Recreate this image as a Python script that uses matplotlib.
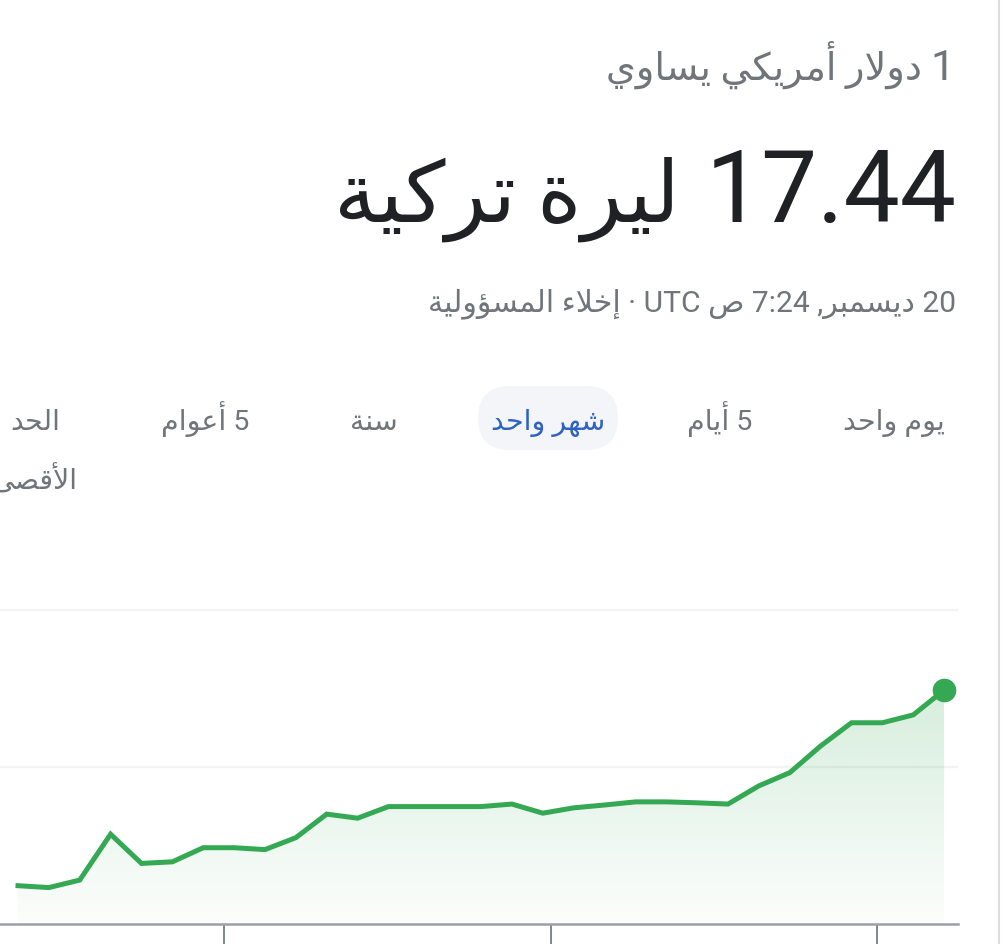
import matplotlib
matplotlib.use('Agg')
import matplotlib.pyplot as plt
from matplotlib.patches import FancyBboxPatch
from matplotlib.lines import Line2D
import numpy as np

# USD -> TRY, one month of daily closes
days = list(range(31))
rates = [16.822, 16.816, 16.840, 16.986, 16.893, 16.898, 16.943, 16.943,
         16.937, 16.975, 17.050, 17.037, 17.074, 17.074, 17.074, 17.074,
         17.082, 17.053, 17.070, 17.079, 17.089, 17.089, 17.086, 17.082,
         17.140, 17.182, 17.267, 17.341, 17.341, 17.366, 17.445]
grid_levels = [17.2, 17.7]
tick_days = [6.68, 17.26, 27.84]

title_num = "1"
title_small = "دولار أمريكي يساوي"
big_num = "17.44"
big_unit = "ليرة تركية"
date_line = "20 ديسمبر, 7:24 ص UTC · إخلاء المسؤولية"
tabs = ["يوم واحد", "5 أيام", "شهر واحد", "سنة", "5 أعوام", "الحد"]
tab_wrap = "الأقصى"

# --- tiny arabic shaper (matplotlib has no bidi / joining support) ---
DUAL = {'ئ': 0xFE89, 'ب': 0xFE8F, 'ت': 0xFE95, 'ث': 0xFE99, 'ج': 0xFE9D,
        'ح': 0xFEA1, 'خ': 0xFEA5, 'س': 0xFEB1, 'ش': 0xFEB5, 'ص': 0xFEB9,
        'ض': 0xFEBD, 'ط': 0xFEC1, 'ظ': 0xFEC5, 'ع': 0xFEC9, 'غ': 0xFECD,
        'ف': 0xFED1, 'ق': 0xFED5, 'ك': 0xFED9, 'ل': 0xFEDD, 'م': 0xFEE1,
        'ن': 0xFEE5, 'ه': 0xFEE9, 'ي': 0xFEF1}
RIGHT = {'آ': 0xFE81, 'أ': 0xFE83, 'ؤ': 0xFE85, 'إ': 0xFE87, 'ا': 0xFE8D,
         'ة': 0xFE93, 'د': 0xFEA9, 'ذ': 0xFEAB, 'ر': 0xFEAD, 'ز': 0xFEAF,
         'و': 0xFEED, 'ى': 0xFEEF}
ALONE = {'ء': 0xFE80}
LAM_ALEF = {'آ': 0xFEF5, 'أ': 0xFEF7, 'إ': 0xFEF9, 'ا': 0xFEFB}


def shape_word(word):
    units = []
    i = 0
    while i < len(word):
        c = word[i]
        if c == 'ل' and i + 1 < len(word) and word[i + 1] in LAM_ALEF:
            units.append(('LA', LAM_ALEF[word[i + 1]]))
            i += 2
        else:
            units.append((c, None))
            i += 1
    out = []
    for k, (c, lig) in enumerate(units):
        joins_prev = k > 0 and units[k - 1][0] in DUAL
        if lig is not None:
            out.append(chr(lig + (1 if joins_prev else 0)))
        elif c in DUAL:
            nxt = units[k + 1][0] if k + 1 < len(units) else None
            joins_next = nxt is not None and (nxt in DUAL or nxt in RIGHT or nxt == 'LA')
            base = DUAL[c]
            if joins_prev and joins_next:
                out.append(chr(base + 3))
            elif joins_prev:
                out.append(chr(base + 1))
            elif joins_next:
                out.append(chr(base + 2))
            else:
                out.append(chr(base))
        elif c in RIGHT:
            out.append(chr(RIGHT[c] + (1 if joins_prev else 0)))
        elif c in ALONE:
            out.append(chr(ALONE[c]))
        else:
            out.append(c)
    return ''.join(reversed(out))


def rtl(text):
    words = []
    for w in text.split(' '):
        if any('\u0600' <= ch <= '\u06ff' for ch in w):
            words.append(shape_word(w))
        else:
            words.append(w)
    return ' '.join(reversed(words))


FONT = ['Roboto', 'DejaVu Sans']
GRAY = '#70757a'
GREEN = '#34a853'

fig = plt.figure(figsize=(10.02, 9.44), dpi=100)
fig.patch.set_facecolor('white')

# overlay in pixel coordinates for the header texts
ov = fig.add_axes([0, 0, 1, 1], zorder=0)
ov.set_xlim(0, 1002)
ov.set_ylim(944, 0)
ov.axis('off')

ov.text(955, 80, title_num, ha='right', va='baseline', fontsize=31,
        color=GRAY, family=FONT)
ov.text(922, 80, rtl(title_small), ha='right', va='baseline', fontsize=27.5,
        color=GRAY, family=FONT)
ov.text(957, 222, big_num, ha='right', va='baseline', fontsize=72,
        color='#202124', family=FONT)
ov.text(680, 222, rtl(big_unit), ha='right', va='baseline', fontsize=61,
        color='#202124', family=FONT)
ov.text(956, 311, rtl(date_line), ha='right', va='baseline', fontsize=21.6,
        color=GRAY, family=FONT)

# time range tabs
tab_right = [945, 752, 605, 398, 249, 60]
pill = FancyBboxPatch((478, 386), 140, 64, boxstyle='round,pad=0,rounding_size=32',
                      facecolor='#f3f5f9', edgecolor='none')
ov.add_patch(pill)
for label, xr in zip(tabs, tab_right):
    col = '#2f62c4' if label == "شهر واحد" else GRAY
    ov.text(xr, 430, rtl(label), ha='right', va='baseline', fontsize=20.5,
            color=col, family=FONT)
ov.text(77, 490, rtl(tab_wrap), ha='right', va='baseline', fontsize=20.5,
        color=GRAY, family=FONT)

# thin card border on the right
fig.add_artist(Line2D([999 / 1002, 999 / 1002], [0, 1], transform=fig.transFigure,
                      color='#dadce0', lw=1.5))

# chart
ax = fig.add_axes([0, 20 / 944, 958 / 1002, 324 / 944], zorder=1)
ax.patch.set_alpha(0)

for g in grid_levels:
    ax.axhline(g, color='#f1f3f4', lw=1.6, zorder=1)

x = np.array(days)
y = np.array(rates)
poly = ax.fill_between(x, y, 16.7, color='none', lw=0)
grad = np.zeros((256, 1, 4))
grad[:, 0, 0:3] = matplotlib.colors.to_rgb(GREEN)
grad[:, 0, 3] = np.linspace(0.2, 0.015, 256)
img = ax.imshow(grad, extent=[x[0], x[-1], 16.7, y.max()], origin='upper',
                aspect='auto', zorder=2)
img.set_clip_path(poly.get_paths()[0], transform=ax.transData)
ax.set_xlim(-0.583, 30.45)
ax.set_ylim(16.7, 17.732)

ax.plot(x, y, color=GREEN, lw=3.6, solid_joinstyle='miter', zorder=3)
ax.plot(x[-1], y[-1], 'o', color=GREEN, ms=16, zorder=4)

for s in ['top', 'left', 'right']:
    ax.spines[s].set_visible(False)
ax.spines['bottom'].set_color('#9aa0a6')
ax.spines['bottom'].set_linewidth(1.8)
ax.spines['bottom'].set_zorder(5)
ax.set_yticks([])
ax.set_xticks(tick_days)
ax.set_xticklabels([])
ax.tick_params(axis='x', length=15, width=1.4, color='#80868b', direction='out')

fig.savefig('out.png', dpi=100, facecolor='white')
